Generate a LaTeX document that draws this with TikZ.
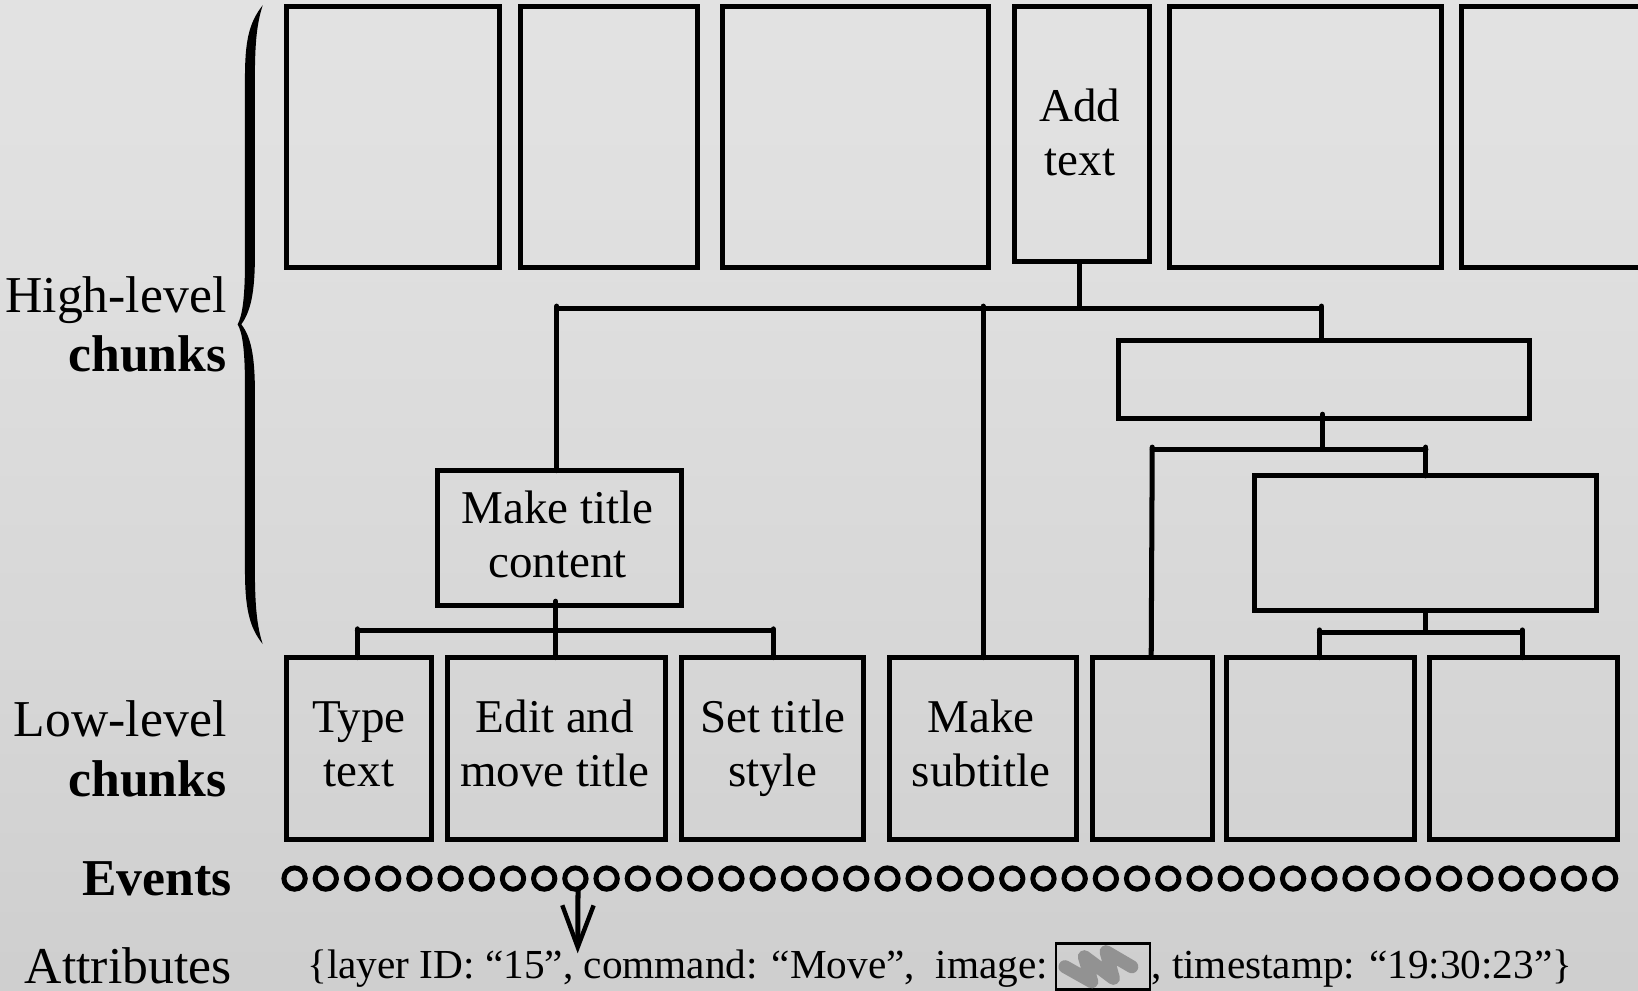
\documentclass[tikz,border=0pt]{standalone}
\usepackage{fontspec}
\setmainfont{Liberation Serif}
\usetikzlibrary{arrows.meta}
\definecolor{bgtop}{HTML}{E9E9E9}
\definecolor{bgup}{HTML}{DFDFDF}
\definecolor{bgmid}{HTML}{D6D6D6}
\definecolor{bgbot}{HTML}{C2C2C2}
\definecolor{scribble}{HTML}{929292}
\pgfdeclareverticalshading{bgshade}{100bp}{color(0bp)=(bgbot); color(40bp)=(bgmid); color(62bp)=(bgup); color(100bp)=(bgtop)}
\tikzset{
  boxstyle/.style={draw=black,line width=4.8pt,rectangle,inner sep=0pt,outer sep=0pt,align=center,font=\fontsize{45}{52}\selectfont},
  wire/.style={draw=black,line width=4.8pt,line cap=round},
  evdot/.style={draw=black,line width=4.8pt,circle,inner sep=0pt,outer sep=0pt,minimum size=20.4pt},
  sidelabel/.style={anchor=base east,inner sep=0pt,font=\fontsize{49.5}{57}\selectfont},
  attrtext/.style={anchor=base west,inner sep=0pt,font=\fontsize{39.5}{45}\selectfont},
}
\newcommand{\bx}[6]{\node[boxstyle,minimum width={(#4-#2)*1pt},minimum height={(#5-#3)*1pt}] (#1) at ({(#2+#4)/2},{(#3+#5)/2}) {#6};}
% first line of a box text: fixed height; last line: fixed depth
\newcommand{\hi}{\rule{0pt}{31pt}}
\newcommand{\lo}[1]{\rule[-#1pt]{0pt}{#1pt}}
\newcommand{\nudge}{\kern3.6pt}
\begin{document}
\begin{tikzpicture}[x=1pt,y=-1pt]
\useasboundingbox (0,0) rectangle (1568,948.6);
\shade[shading=bgshade] (0,0) rectangle (1568,948.6);
% top row
\bx{t1}{273.8}{6.5}{478.5}{256.5}{}
\bx{t2}{497.8}{6.5}{667.5}{256.5}{}
\bx{t3}{691.8}{6.5}{946.5}{256.5}{}
\bx{addtext}{970.8}{6.5}{1100.5}{250.5}{\hi Add\nudge\\text\nudge\lo{4}}
\bx{t5}{1119.8}{6.5}{1379.5}{256.5}{}
\bx{t6}{1398.8}{6.5}{1580}{256.5}{}
% middle
\bx{rone}{1070.5}{325.5}{1464.5}{400.5}{}
\bx{rtwo}{1200.5}{455.5}{1528.5}{584.5}{}
\bx{title}{418.5}{450.5}{652.5}{579.5}{\hi Make title\nudge\\content\nudge\lo{7}}
% low level
\bx{l1}{273.8}{629.5}{413.5}{803.5}{\hi Type\\text\lo{10}}
\bx{l2}{428.5}{629.5}{637.5}{803.5}{\hi Edit and\nudge\\move title\nudge\lo{10}}
\bx{l3}{652.5}{629.5}{826.5}{803.5}{\hi Set title\\style\lo{10}}
\bx{l4}{851.5}{629.5}{1030.5}{803.5}{\hi Make\nudge\\subtitle\nudge\lo{10}}
\bx{l5}{1045.5}{629.5}{1160.5}{803.5}{}
\bx{l6}{1174.5}{629.5}{1354.5}{803.5}{}
\bx{l7}{1368.5}{629.5}{1548.5}{803.5}{}
% junctions
\coordinate (ja) at (1033,295);
\coordinate (jl) at (533,295);
\coordinate (jm) at (941,295);
\coordinate (jr) at (1265,295);
\coordinate (jb) at (1266,430);
\coordinate (jbl) at (1103,430);
\coordinate (jbr) at (1365,430);
\coordinate (jblow) at (1102,629);
\coordinate (jc) at (1365,605);
\coordinate (jcl) at (1263,605);
\coordinate (jcr) at (1457,605);
\coordinate (jd) at (532,604);
\coordinate (jdl) at (342,604);
\coordinate (jdr) at (740,604);
\draw[wire] (ja |- addtext.south) -- (ja);
\draw[wire] (jl) -- (jr);
\draw[wire] ([yshift=2pt]jl) -- (jl |- title.north);
\draw[wire] ([yshift=2pt]jm) -- (jm |- l4.north);
\draw[wire] ([yshift=2pt]jr) -- (jr |- rone.north);
\draw[wire] ([yshift=4pt]jb |- rone.south) -- (jb);
\draw[wire] (jbl) -- (jbr);
\draw[wire] ([yshift=2pt]jbl) -- (jblow);
\draw[wire] ([yshift=2pt]jbr) -- (jbr |- rtwo.north);
\draw[wire] (jc |- rtwo.south) -- (jc);
\draw[wire] (jcl) -- (jcr);
\draw[wire] ([yshift=2pt]jcl) -- (jcl |- l6.north);
\draw[wire] ([yshift=2pt]jcr) -- (jcr |- l7.north);
\draw[wire] ([yshift=4pt]jd |- title.south) -- (jd);
\draw[wire] (jdl) -- (jdr);
\draw[wire] ([yshift=2pt]jdl) -- (jdl |- l1.north);
\draw[wire] (jd) -- (jd |- l2.north);
\draw[wire] ([yshift=2pt]jdr) -- (jdr |- l3.north);
% brace
\fill[black] (251.5,5) .. controls (238,22) and (234.5,40) .. (234.5,75) -- (234.5,250) .. controls (234.5,285) and (232,302) .. (227.5,310.5) .. controls (232,318) and (234.5,335) .. (234.5,370) -- (234.5,545) .. controls (234.5,580) and (238,600) .. (251.5,616.5) .. controls (246,600) and (244,580) .. (244,545) -- (244,375) .. controls (244,340) and (240,322) .. (231,310.5) .. controls (240,298) and (244,280) .. (244,245) -- (244,75) .. controls (244,40) and (246,22) .. (251.5,5) -- cycle;
% side labels
\node[sidelabel] (lbhigh) at (217,299) {High-level};
\node[sidelabel] (lbhighb) at (217,356) {\bfseries chunks};
\node[sidelabel] (lblow) at (217,705) {Low-level};
\node[sidelabel] (lblowb) at (217,762) {\bfseries chunks};
\node[sidelabel] (lbev) at (222,857) {\bfseries Events};
\node[sidelabel] (lbat) at (222,941) {Attributes};
% events
\foreach \i in {0,...,42} {
  \node[evdot] (ev\i) at ({282+\i*29.87},841) {};
}
\coordinate (arrowend) at (553,912.6);
\draw[black,line width=4.8pt,-{Straight Barb[length=40pt,width=30pt,line width=4.2pt]}] ([xshift=2.5pt]ev9.south) -- (arrowend);
% attributes
\node[attrtext] (atone) at (294,937) {\{layer ID: “15”, command: “Move”,\ \ image:};
\node[draw=black,line width=2.4pt,rectangle,inner sep=0pt,outer sep=0pt,minimum width=90pt,minimum height=44pt] (thumb) at (1056,925) {};
\draw[scribble,line width=12.5pt,line cap=round,line join=round] (1019.5,925.4) -- (1045.1,939.8) -- (1038,915.8) -- (1065.8,936.5) -- (1058.8,911) -- (1083.4,925.4);
\node[attrtext] (attwo) at (1102,937) {, timestamp: “19:30:23”\}};
\end{tikzpicture}
\end{document}
